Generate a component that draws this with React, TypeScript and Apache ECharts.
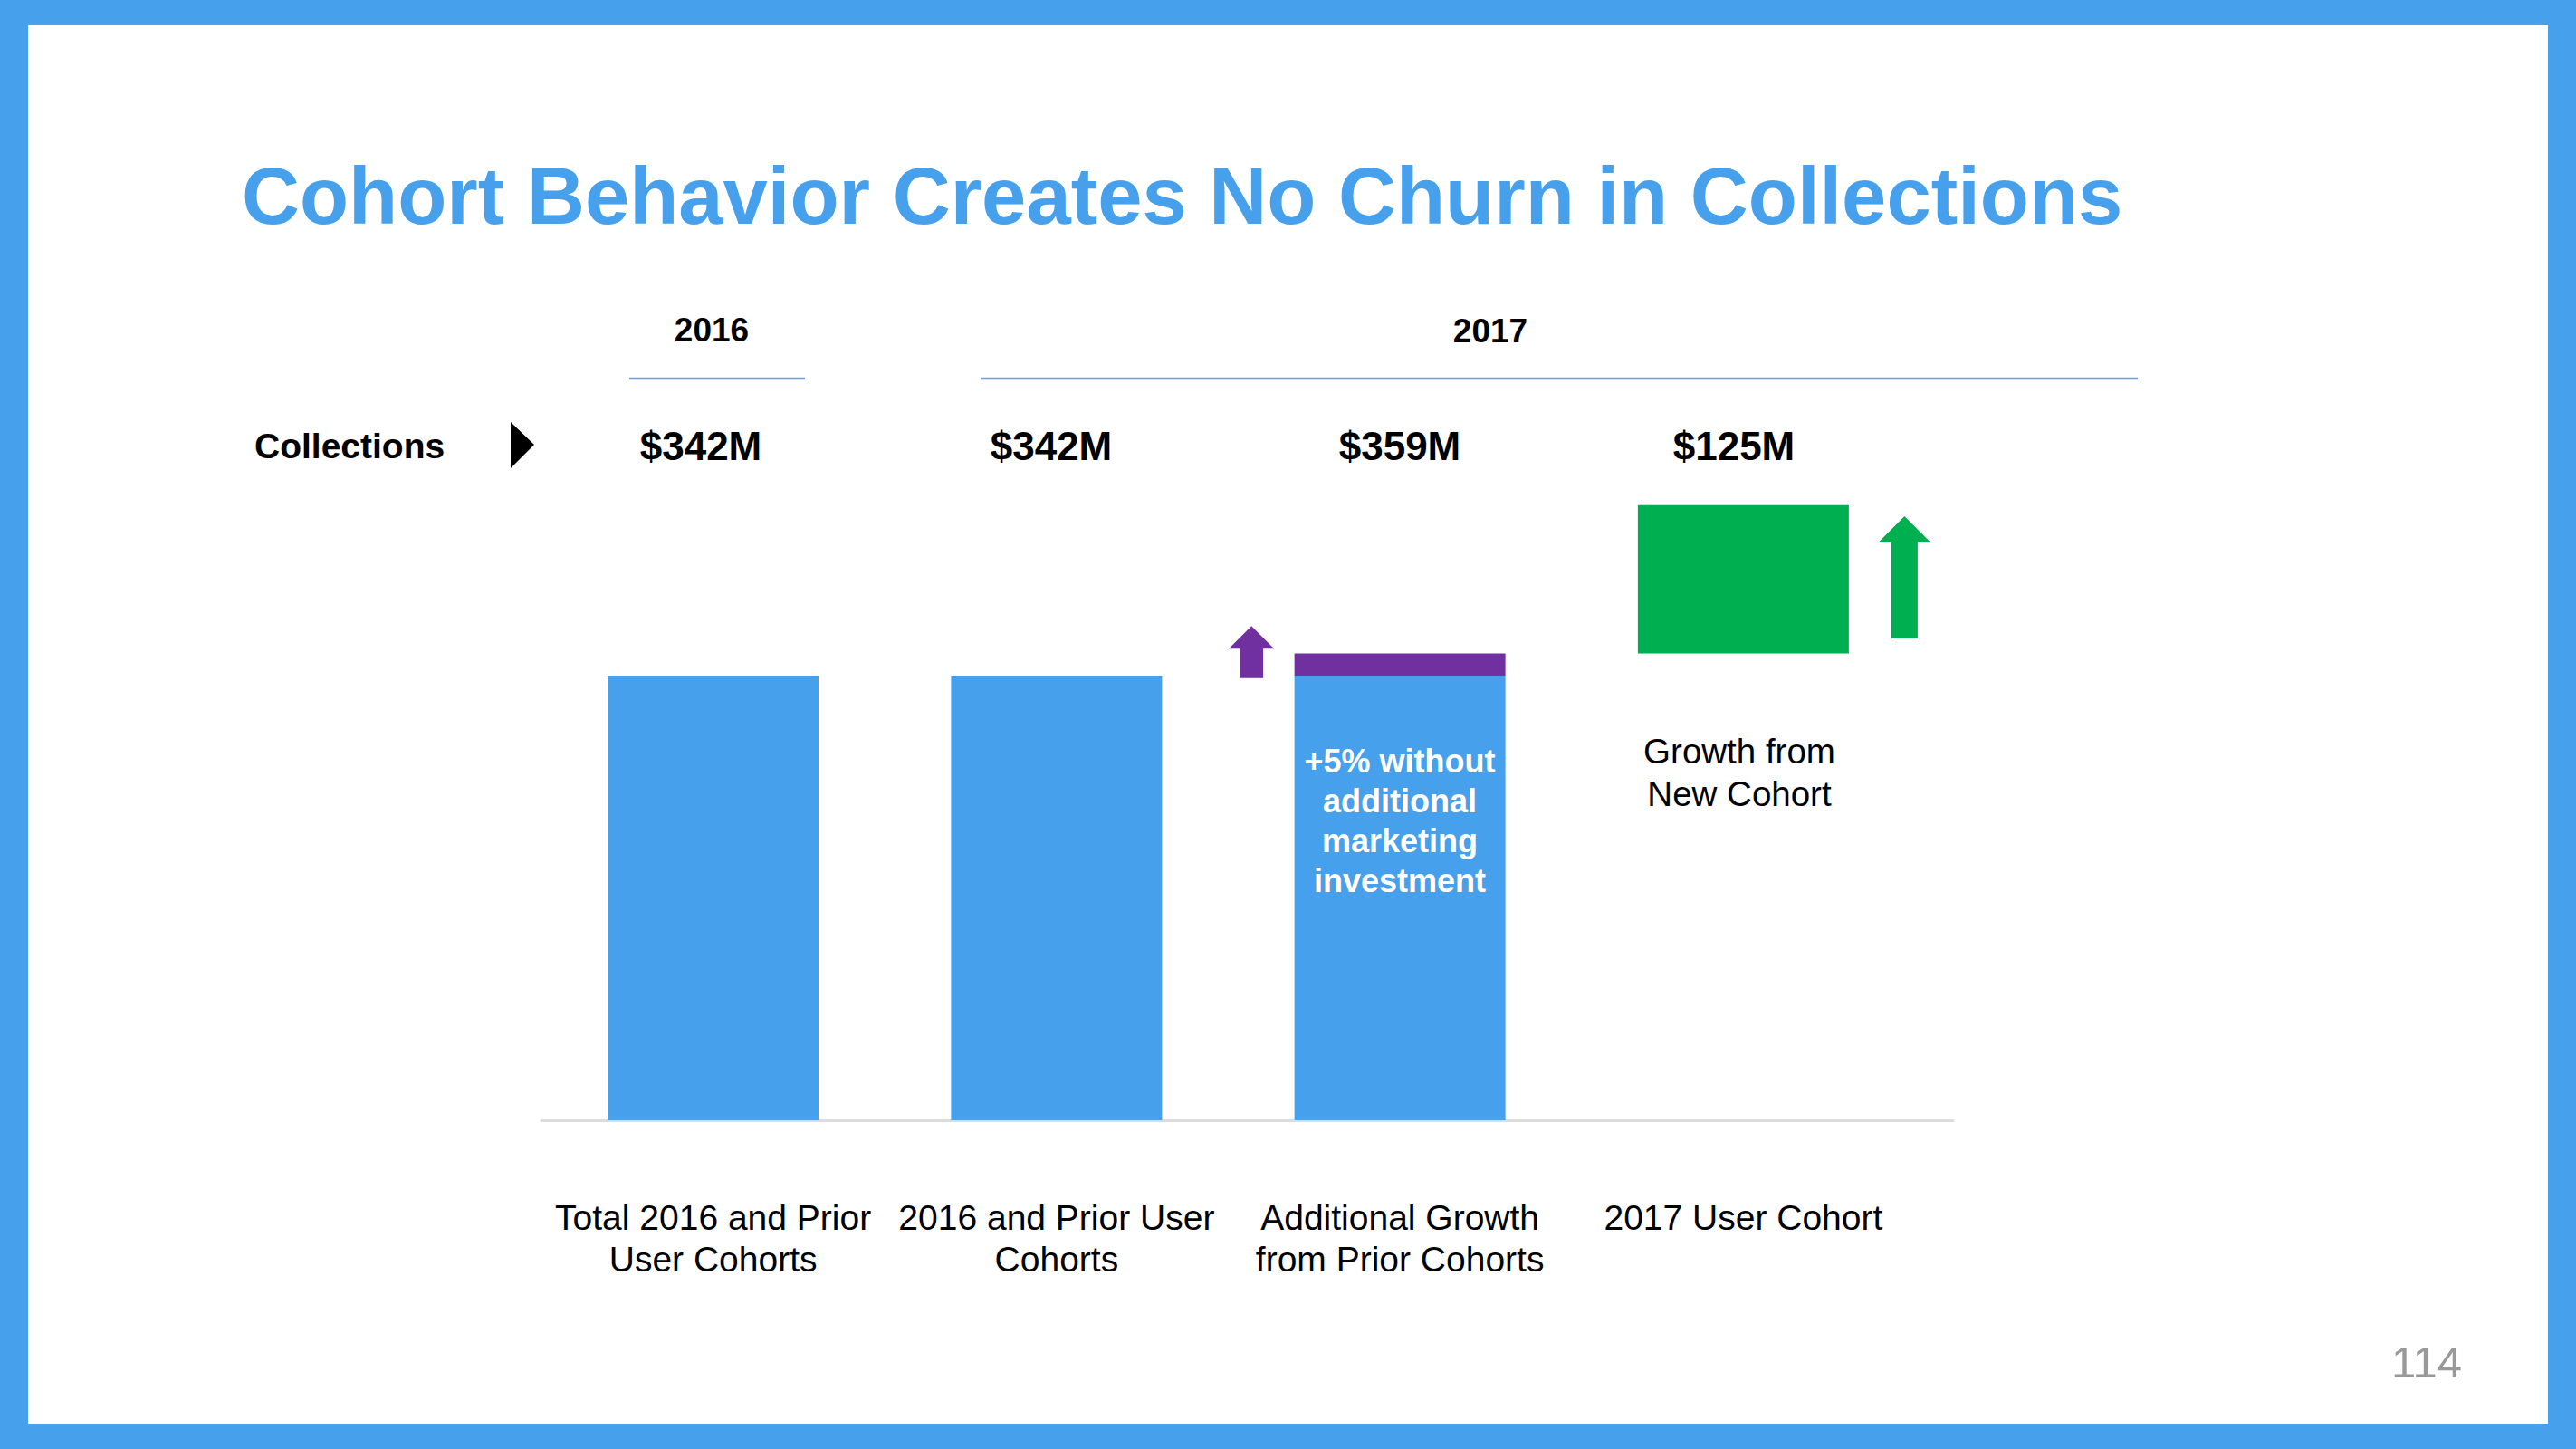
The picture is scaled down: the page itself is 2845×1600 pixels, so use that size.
import React, { useEffect, useRef } from "react";
import * as echarts from "echarts";

const categories = [
  "Total 2016 and Prior\nUser Cohorts",
  "2016 and Prior User\nCohorts",
  "Additional Growth\nfrom Prior Cohorts",
  "2017 User Cohort",
];
const priorCohorts = [342, 342, 342, "-"];
const additionalGrowth = ["-", "-", 17, "-"];
const newCohortBase = ["-", "-", "-", 359];
const newCohortGrowth = ["-", "-", "-", 114];
const collectionsLabels = ["$342M", "$342M", "$359M", "$125M"];
const yearLabels = ["2016", "2017"];
// arrows: [category index, from value, to value]
const arrows = [
  [2, 340, 380],
  [3, 370.5, 464.5],
];

const FONT = "'Liberation Sans', Arial, Helvetica, sans-serif";
const BLUE = "#47a0eb";
const GREEN = "#00b050";
const PURPLE = "#7030a0";

const arrowStyles = [
  { dx: -164, hw: 25, sw: 13, hh: 25, color: PURPLE },
  { dx: 178, hw: 29, sw: 14.5, hh: 29, color: GREEN },
];

export default function App() {
  const ref = useRef<HTMLDivElement>(null);
  useEffect(() => {
    const chart = echarts.init(ref.current!, null, { renderer: "svg" });
    const valueX = [774, 1161, 1546, 1915];
    chart.setOption({
      animation: false,
      backgroundColor: BLUE,
      grid: [
        { left: 598, width: 1517, top: 519, height: 718 },
        { left: 598, width: 1559, top: 519, height: 718 },
      ],
      xAxis: [
        {
          type: "category",
          gridIndex: 0,
          data: categories,
          axisLine: { show: false },
          axisTick: { show: false },
          axisLabel: {
            margin: 84,
            fontFamily: FONT,
            fontSize: 39,
            lineHeight: 46,
            color: "#000",
            interval: 0,
          },
        },
        {
          type: "category",
          gridIndex: 1,
          data: [""],
          axisLine: { show: true, lineStyle: { color: "#dcdcdc", width: 3 } },
          axisTick: { show: false },
          axisLabel: { show: false },
        },
      ],
      yAxis: [
        { type: "value", gridIndex: 0, min: 0, max: 500, show: false },
        { type: "value", gridIndex: 1, min: 0, max: 500, show: false },
      ],
      series: [
        {
          type: "bar",
          stack: "total",
          data: priorCohorts,
          barWidth: 233,
          itemStyle: { color: BLUE },
          z: 3,
        },
        {
          type: "bar",
          stack: "total",
          data: additionalGrowth,
          barWidth: 233,
          itemStyle: { color: PURPLE },
          z: 3,
        },
        {
          type: "bar",
          stack: "total",
          data: newCohortBase,
          barWidth: 233,
          itemStyle: { color: "transparent" },
          z: 3,
        },
        {
          type: "bar",
          stack: "total",
          data: newCohortGrowth,
          barWidth: 233,
          itemStyle: { color: GREEN },
          z: 3,
        },
        {
          type: "custom",
          xAxisIndex: 0,
          yAxisIndex: 0,
          data: arrows,
          encode: { x: 0, y: [1, 2] },
          z: 4,
          renderItem: (params: any, api: any) => {
            const st = arrowStyles[params.dataIndex];
            const c = api.value(0);
            const pb = api.coord([c, api.value(1)]);
            const pt = api.coord([c, api.value(2)]);
            const cx = pb[0] + st.dx;
            const top = pt[1];
            const bot = pb[1];
            return {
              type: "polygon",
              shape: {
                points: [
                  [cx, top],
                  [cx + st.hw, top + st.hh],
                  [cx + st.sw, top + st.hh],
                  [cx + st.sw, bot],
                  [cx - st.sw, bot],
                  [cx - st.sw, top + st.hh],
                  [cx - st.hw, top + st.hh],
                ],
              },
              style: { fill: st.color },
            };
          },
        },
      ],
      graphic: [
        {
          type: "rect",
          shape: { x: 31, y: 28, width: 2783, height: 1544 },
          style: { fill: "#ffffff" },
          z: -10,
        },
        {
          type: "text",
          x: 267,
          y: 216,
          style: {
            text: "Cohort Behavior Creates No Churn in Collections",
            fontFamily: FONT,
            fontWeight: "bold",
            fontSize: 88.6,
            fill: BLUE,
            textAlign: "left",
            textVerticalAlign: "middle",
          },
        },
        {
          type: "text",
          x: 786,
          y: 364,
          style: {
            text: yearLabels[0],
            fontFamily: FONT,
            fontWeight: "bold",
            fontSize: 37,
            fill: "#000",
            textAlign: "center",
            textVerticalAlign: "middle",
          },
        },
        {
          type: "text",
          x: 1646,
          y: 365,
          style: {
            text: yearLabels[1],
            fontFamily: FONT,
            fontWeight: "bold",
            fontSize: 37,
            fill: "#000",
            textAlign: "center",
            textVerticalAlign: "middle",
          },
        },
        {
          type: "line",
          shape: { x1: 695, y1: 418, x2: 889, y2: 418 },
          style: { stroke: "#7b9bd9", lineWidth: 2.5 },
        },
        {
          type: "line",
          shape: { x1: 1083, y1: 418, x2: 2361, y2: 418 },
          style: { stroke: "#7b9bd9", lineWidth: 2.5 },
        },
        {
          type: "text",
          x: 281,
          y: 492,
          style: {
            text: "Collections",
            fontFamily: FONT,
            fontWeight: "bold",
            fontSize: 39,
            fill: "#000",
            textAlign: "left",
            textVerticalAlign: "middle",
          },
        },
        {
          type: "polygon",
          shape: {
            points: [
              [564, 466],
              [590, 491],
              [564, 517],
            ],
          },
          style: { fill: "#000" },
        },
        ...collectionsLabels.map((t, i) => ({
          type: "text",
          x: valueX[i],
          y: 492,
          style: {
            text: t,
            fontFamily: FONT,
            fontWeight: "bold",
            fontSize: 44,
            fill: "#000",
            textAlign: "center",
            textVerticalAlign: "middle",
          },
        })),
        {
          type: "text",
          x: 1546,
          y: 906,
          z: 10,
          style: {
            text: "+5% without\nadditional\nmarketing\ninvestment",
            fontFamily: FONT,
            fontWeight: "bold",
            fontSize: 36,
            lineHeight: 44,
            fill: "#ffffff",
            textAlign: "center",
            textVerticalAlign: "middle",
          },
        },
        {
          type: "text",
          x: 1921,
          y: 853,
          style: {
            text: "Growth from\nNew Cohort",
            fontFamily: FONT,
            fontSize: 38.5,
            lineHeight: 47,
            fill: "#000",
            textAlign: "center",
            textVerticalAlign: "middle",
          },
        },
        {
          type: "text",
          x: 2719,
          y: 1504,
          style: {
            text: "114",
            fontFamily: FONT,
            fontSize: 49,
            fill: "#999999",
            textAlign: "right",
            textVerticalAlign: "middle",
          },
        },
      ],
    });
    return () => chart.dispose();
  }, []);
  return (
    <div
      ref={ref}
      style={{ position: "fixed", left: 0, top: 0, width: 2845, height: 1600 }}
    />
  );
}
